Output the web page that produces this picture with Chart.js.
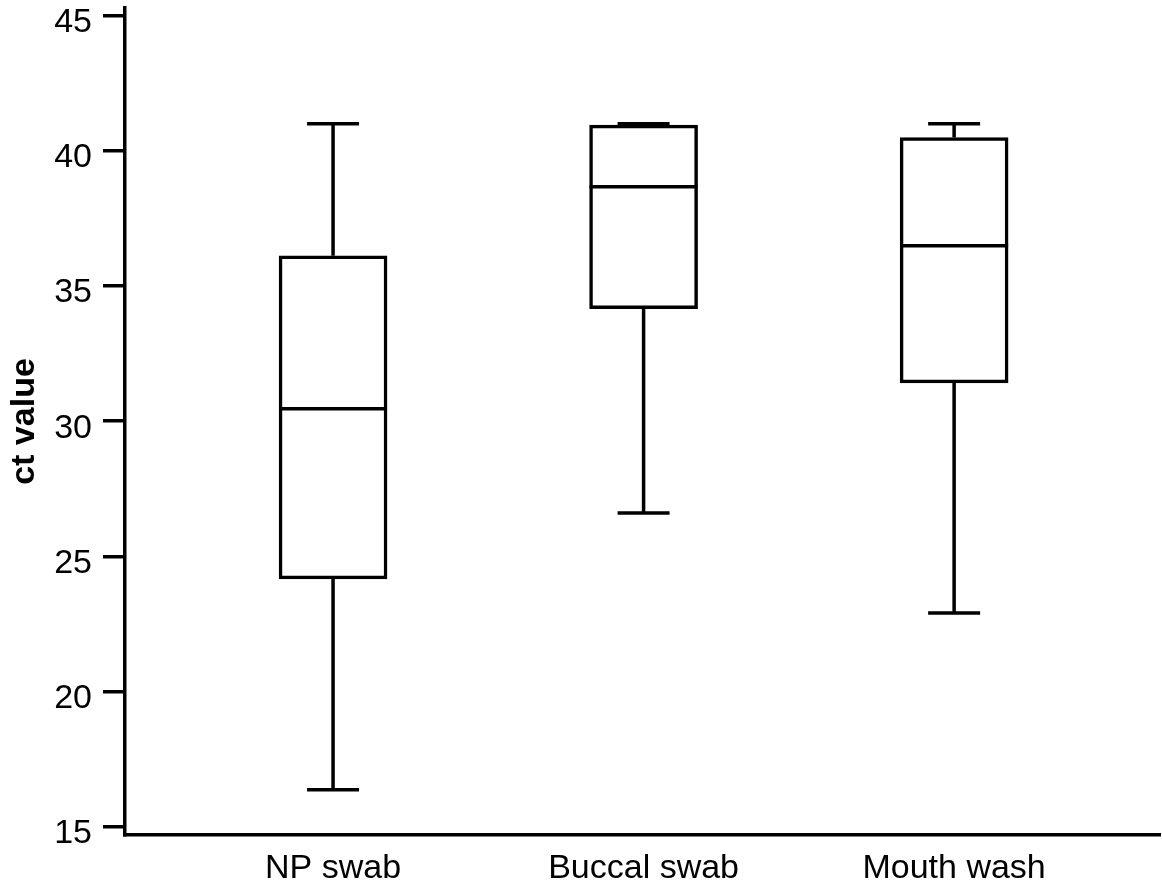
<!DOCTYPE html>
<html>
<head>
<meta charset="utf-8">
<script src="https://cdn.jsdelivr.net/npm/chart.js@4.4.1/dist/chart.umd.min.js"></script>
<style>
  html, body { margin: 0; padding: 0; background: #fff; }
  #wrap { width: 1162px; height: 886px; position: relative; }
</style>
</head>
<body>
<div id="wrap"><canvas id="boxChart"></canvas></div>
<script>
const categories = ["NP swab", "Buccal swab", "Mouth wash"];
const whiskerMin = [16.37, 26.61, 22.91];
const q1 = [24.17, 34.16, 31.42];
const median = [30.46, 38.67, 36.49];
const q3 = [36.12, 40.95, 40.49];
const whiskerMax = [41, 41, 41];
const yTicks = [15, 20, 25, 30, 35, 40, 45];

const FONT = "'Liberation Sans', Arial, Helvetica, sans-serif";
const LINE = 3.5;
const CAP_HALF = 26;

// whiskers + caps go under the boxes, medians on top
const boxPlotExtras = {
  id: "boxPlotExtras",
  beforeDatasetsDraw(chart) {
    const { ctx, scales } = chart;
    ctx.save();
    ctx.strokeStyle = "#000";
    ctx.lineWidth = LINE;
    ctx.lineCap = "butt";
    categories.forEach((_, i) => {
      const x = scales.x.getPixelForValue(i);
      const yMin = scales.y.getPixelForValue(whiskerMin[i]);
      const yMax = scales.y.getPixelForValue(whiskerMax[i]);
      const yQ1 = scales.y.getPixelForValue(q1[i]);
      const yQ3 = scales.y.getPixelForValue(q3[i]);
      ctx.beginPath();
      ctx.moveTo(x, yQ3);
      ctx.lineTo(x, yMax);
      ctx.moveTo(x - CAP_HALF, yMax);
      ctx.lineTo(x + CAP_HALF, yMax);
      ctx.moveTo(x, yQ1);
      ctx.lineTo(x, yMin);
      ctx.moveTo(x - CAP_HALF, yMin);
      ctx.lineTo(x + CAP_HALF, yMin);
      ctx.stroke();
    });
    ctx.restore();
  },
  afterDatasetsDraw(chart) {
    const { ctx, scales } = chart;
    const meta = chart.getDatasetMeta(0);
    ctx.save();
    ctx.strokeStyle = "#000";
    ctx.lineWidth = LINE;
    meta.data.forEach((bar, i) => {
      const half = bar.width / 2;
      const y = scales.y.getPixelForValue(median[i]);
      ctx.beginPath();
      ctx.moveTo(bar.x - half, y);
      ctx.lineTo(bar.x + half, y);
      ctx.stroke();
    });
    ctx.restore();
  }
};

new Chart(document.getElementById("boxChart"), {
  type: "bar",
  data: {
    datasets: [{
      data: categories.map((c, i) => ({ x: i, y: [q1[i], q3[i]] })),
      backgroundColor: "#fff",
      borderColor: "#000",
      borderWidth: LINE,
      borderSkipped: false,
      barThickness: 108
    }]
  },
  options: {
    responsive: true,
    maintainAspectRatio: false,
    animation: false,
    layout: { padding: { top: 8, right: 2, bottom: 0, left: 0 } },
    plugins: {
      legend: { display: false },
      tooltip: { enabled: false }
    },
    scales: {
      x: {
        type: "linear",
        offset: false,
        min: -0.67,
        max: 2.663,
        afterBuildTicks(scale) {
          scale.ticks = categories.map((_, i) => ({ value: i }));
        },
        afterFit(scale) {
          scale.height = 51;
          scale.paddingLeft = 0;
          scale.paddingRight = 0;
        },
        ticks: {
          color: "#000",
          font: { family: FONT, size: 34 },
          padding: 13,
          maxRotation: 0,
          autoSkip: false,
          callback(value) { return categories[value] ?? ""; }
        },
        grid: { display: true, offset: false, drawOnChartArea: false, drawTicks: false },
        border: { display: true, color: "#000", width: LINE }
      },
      y: {
        min: 14.7,
        max: 45.28,
        afterBuildTicks(scale) {
          scale.ticks = yTicks.map((v) => ({ value: v }));
        },
        afterFit(scale) {
          scale.width = 125;
          scale.paddingTop = 0;
          scale.paddingBottom = 0;
        },
        ticks: {
          color: "#000",
          font: { family: FONT, size: 34 },
          padding: 11,
          labelOffset: 7
        },
        grid: {
          drawOnChartArea: false,
          drawTicks: true,
          tickLength: 22,
          color: "#000",
          lineWidth: LINE
        },
        border: { display: true, color: "#000", width: LINE },
        title: {
          display: true,
          text: "ct value",
          color: "#000",
          font: { family: FONT, size: 34, weight: "bold" },
          padding: { top: 4, bottom: 0 }
        }
      }
    }
  },
  plugins: [boxPlotExtras]
});
</script>
</body>
</html>
